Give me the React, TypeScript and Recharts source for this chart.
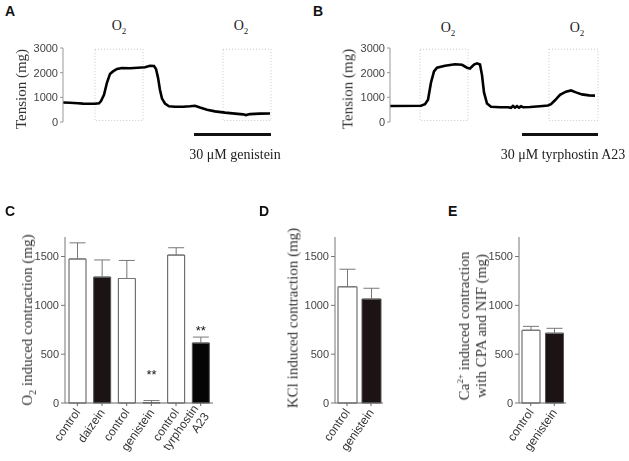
import React from 'react';
import {
  LineChart, Line, BarChart, Bar, XAxis, YAxis, ReferenceArea, ErrorBar, Cell, LabelList,
} from 'recharts';

// traces: time (s) and tension (mg)
const traceATime = [0, 7, 15, 20, 32, 36, 38, 41, 44, 47, 50, 54, 59, 67, 75, 82, 87, 91, 93, 95, 97, 99, 102, 106, 112, 120, 127, 132, 137, 144, 152, 162, 172, 180, 183, 187, 197, 207];
const traceATension = [790, 780, 760, 745, 740, 760, 850, 1100, 1600, 1950, 2050, 2150, 2190, 2180, 2200, 2220, 2280, 2270, 2150, 1800, 1300, 950, 750, 640, 620, 620, 640, 660, 590, 500, 430, 380, 340, 310, 280, 320, 340, 345];

const traceBTime = [0, 31, 35, 38, 41, 44, 47, 55, 65, 72, 77, 80, 84, 87, 90, 92, 94, 97, 101, 110, 118, 121, 123, 125, 127, 129, 131, 133, 140, 150, 158, 161, 165, 170, 176, 181, 186, 192, 199, 205];
const traceBTension = [650, 660, 720, 900, 1600, 2050, 2200, 2280, 2340, 2320, 2200, 2170, 2330, 2380, 2330, 1900, 1200, 750, 620, 600, 600, 575, 650, 585, 640, 580, 635, 600, 610, 640, 670, 720, 880, 1100, 1230, 1280, 1200, 1120, 1080, 1070];

// O2 application windows (s)
const traceAWindows = [[32, 80], [160, 208]];
const traceBWindows = [[30, 78], [159, 208]];

const tensionTicks = [0, 1000, 2000, 3000];
const contractionTicks = [0, 500, 1000, 1500];

// panel C
const cGroups = ['control', 'daizein', 'control', 'genistein', 'control', 'tyrphostin A23'];
const cMeans = [1475, 1290, 1275, 5, 1515, 615];
const cErrors = [165, 175, 185, 20, 75, 60];
const cSignif = ['', '', '', '**', '', '**'];

// panel D
const dGroups = ['control', 'genistein'];
const dMeans = [1190, 1065];
const dErrors = [180, 110];

// panel E
const eGroups = ['control', 'genistein'];
const eMeans = [745, 715];
const eErrors = [40, 50];

const sans = '"Liberation Sans", Arial, sans-serif';
const serif = '"Liberation Serif", "Times New Roman", serif';

const toTrace = (t: number[], v: number[]) => t.map((x, i) => ({ t: x, v: v[i] }));
const toBars = (g: string[], m: number[], e: number[], s?: string[]) =>
  g.map((name, i) => ({ name, mean: m[i], err: [0, e[i]], sig: s ? s[i] : '' }));

const tickStyle = { fontSize: 11, fill: '#444', fontFamily: sans };

const SlantTick = (props: any) => {
  const { x, y, payload } = props;
  const lines = String(payload.value).split(' ');
  return (
    <g transform={`translate(${x},${y})`}>
      <text transform="rotate(-55)" textAnchor="end" fontSize={12} fill="#333" fontFamily={sans}>
        {lines.map((l, i) => (
          <tspan key={i} x={0} dy={i === 0 ? `${0.35 - (lines.length - 1) * 0.55}em` : '1.1em'}>{l}</tspan>
        ))}
      </text>
    </g>
  );
};

const Stars = (props: any) => {
  const { x, y, width, height, value } = props;
  if (!value) return null;
  return (
    <text x={x + width / 2} y={y - Math.max(8, 24 - height)} textAnchor="middle" fontSize={13} fill="#111" fontFamily={sans}>
      {value}
    </text>
  );
};

const VLabel = ({ cx, cy, children }: { cx: number; cy: number; children: React.ReactNode }) => (
  <div
    style={{
      position: 'absolute', left: cx, top: cy, transform: 'translate(-50%,-50%) rotate(-90deg)',
      whiteSpace: 'nowrap', fontFamily: serif, fontSize: 15, color: '#333', lineHeight: '17px', textAlign: 'center',
    }}
  >
    {children}
  </div>
);

const Letter = ({ x, y, c }: { x: number; y: number; c: string }) => (
  <div style={{ position: 'absolute', left: x, top: y, fontFamily: sans, fontWeight: 700, fontSize: 14, lineHeight: '14px', color: '#111' }}>{c}</div>
);

const O2 = ({ cx, cy }: { cx: number; cy: number }) => (
  <div style={{ position: 'absolute', left: cx, top: cy, transform: 'translate(-50%,-50%)', fontFamily: serif, fontSize: 14, color: '#222' }}>
    O<sub style={{ fontSize: 9 }}>2</sub>
  </div>
);

const Drug = ({ x1, x2, cx, text }: { x1: number; x2: number; cx: number; text: string }) => (
  <>
    <div style={{ position: 'absolute', left: x1, top: 133, width: x2 - x1, height: 3, background: '#111' }} />
    <div style={{ position: 'absolute', left: cx, top: 155, transform: 'translate(-50%,-50%)', whiteSpace: 'nowrap', fontFamily: serif, fontSize: 14, color: '#222' }}>{text}</div>
  </>
);

const Trace = ({ data, windows, yWidth, right, width }: { data: any[]; windows: number[][]; yWidth: number; right: number; width: number }) => (
  <LineChart width={width} height={140} data={data} margin={{ top: 48, right, bottom: 18, left: 0 }}>
    <XAxis dataKey="t" type="number" domain={[0, 208]} hide />
    <YAxis
      domain={[0, 3000]} ticks={tensionTicks} width={yWidth} tick={tickStyle}
      axisLine={{ stroke: '#999' }} tickLine={{ stroke: '#999' }} tickSize={3} tickMargin={2}
    />
    {windows.map(([a, b], i) => (
      <ReferenceArea key={i} x1={a} x2={b} y1={60} y2={2950} fill="none" fillOpacity={0} stroke="#c8c8c8" strokeDasharray="1 2" ifOverflow="visible" />
    ))}
    <Line dataKey="v" type="linear" stroke="#000" strokeWidth={2.6} dot={false} isAnimationActive={false} />
  </LineChart>
);

const Bars = ({ data, yWidth, right, width, barSize }: { data: any[]; yWidth: number; right: number; width: number; barSize: number }) => (
  <BarChart width={width} height={271} data={data} margin={{ top: 47, right, bottom: 0, left: 0 }} barSize={barSize}>
    <XAxis
      dataKey="name" height={58} interval={0} tick={<SlantTick />}
      axisLine={{ stroke: '#666' }} tickLine={{ stroke: '#666' }} tickSize={3} tickMargin={4}
    />
    <YAxis
      domain={[0, 1700]} ticks={contractionTicks} width={yWidth} tick={tickStyle}
      axisLine={{ stroke: '#777' }} tickLine={{ stroke: '#777' }} tickSize={4} tickMargin={2}
    />
    <Bar dataKey="mean" stroke="#555" strokeWidth={1} isAnimationActive={false}>
      {data.map((d, i) => (
        <Cell key={i} fill={d.name === 'control' ? '#ffffff' : (d.name === 'tyrphostin A23' ? '#050505' : '#1c1414')} />
      ))}
      <ErrorBar dataKey="err" direction="y" width={8} stroke="#777" strokeWidth={1} isAnimationActive={false} />
      <LabelList dataKey="sig" content={<Stars />} />
    </Bar>
  </BarChart>
);

// positioned holder for each panel; own layer so small grey text renders grayscale
const Holder = ({ left, top, children }: { left: number; top: number; children: React.ReactNode }) => (
  <div style={{ position: 'absolute', left, top, willChange: 'transform' }}>{children}</div>
);

export default function App() {
  return (
    <div style={{ position: 'absolute', left: 0, top: 0, width: 629, height: 461, background: '#fff', overflow: 'hidden' }}>
      {/* A */}
      <Letter x={5} y={4} c="A" />
      <O2 cx={119} cy={27} />
      <O2 cx={241} cy={27} />
      <Holder left={0} top={0}>
        <Trace data={toTrace(traceATime, traceATension)} windows={traceAWindows} yWidth={63} right={29} width={300} />
      </Holder>
      <VLabel cx={21} cy={89}>Tension (mg)</VLabel>
      <Drug x1={194} x2={271} cx={235} text="30 μM genistein" />

      {/* B */}
      <Letter x={313} y={4} c="B" />
      <O2 cx={448} cy={29} />
      <O2 cx={577} cy={29} />
      <Holder left={310} top={0}>
        <Trace data={toTrace(traceBTime, traceBTension)} windows={traceBWindows} yWidth={80} right={22} width={310} />
      </Holder>
      <VLabel cx={348} cy={89}>Tension (mg)</VLabel>
      <Drug x1={522} x2={598} cx={563} text="30 μM tyrphostin A23" />

      {/* C */}
      <Letter x={5} y={204} c="C" />
      <Holder left={0} top={190}>
        <Bars data={toBars(cGroups, cMeans, cErrors, cSignif)} yWidth={65} right={27} width={240} barSize={17} />
      </Holder>
      <VLabel cx={30} cy={320}>O<sub style={{ fontSize: 10 }}>2</sub> induced contraction (mg)</VLabel>

      {/* D */}
      <Letter x={259} y={204} c="D" />
      <Holder left={250} top={190}>
        <Bars data={toBars(dGroups, dMeans, dErrors)} yWidth={85} right={17} width={150} barSize={19} />
      </Holder>
      <VLabel cx={293} cy={318}>KCl induced contraction (mg)</VLabel>

      {/* E */}
      <Letter x={448} y={204} c="E" />
      <Holder left={410} top={190}>
        <Bars data={toBars(eGroups, eMeans, eErrors)} yWidth={109} right={24} width={180} barSize={18} />
      </Holder>
      <VLabel cx={471} cy={326}>
        Ca<sup style={{ fontSize: 9 }}>2+</sup> induced contraction<br />with CPA and NIF (mg)
      </VLabel>
    </div>
  );
}
